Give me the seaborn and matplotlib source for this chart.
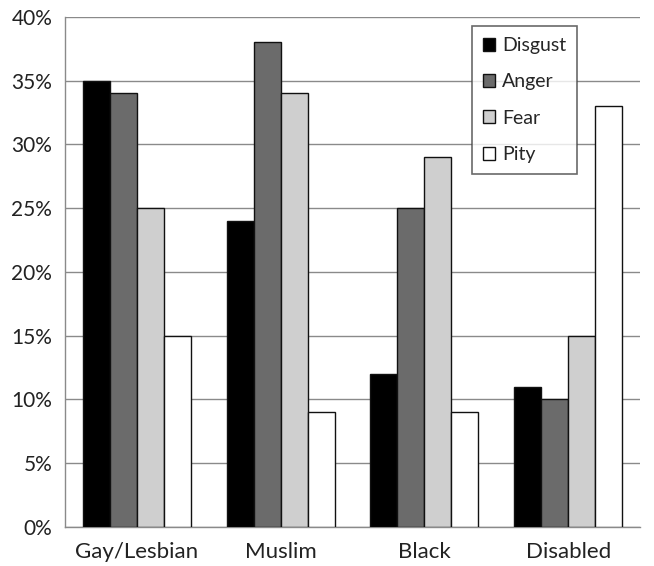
import pandas as pd
import numpy as np
import matplotlib
matplotlib.use('Agg')
import matplotlib.pyplot as plt
import seaborn as sns
from matplotlib.ticker import FixedLocator, PercentFormatter

groups = ['Gay/Lesbian', 'Muslim', 'Black', 'Disabled']
emotions = ['Disgust', 'Anger', 'Fear', 'Pity']
disgust = [35, 24, 12, 11]
anger = [34, 38, 25, 10]
fear = [25, 34, 29, 15]
pity = [15, 9, 9, 33]
palette = ['#000000', '#6b6b6b', '#cfcfcf', '#ffffff']

rows = []
for name, vals in zip(emotions, [disgust, anger, fear, pity]):
    for g, v in zip(groups, vals):
        rows.append({'group': g, 'emotion': name, 'value': v})
df = pd.DataFrame(rows)

sns.set_style('white')
plt.rcParams['font.family'] = ['Lato', 'DejaVu Sans']

fig = plt.figure(figsize=(6.54, 5.66), dpi=100)
ax = fig.add_axes([0.099, 0.069, 0.880, 0.901])

sns.barplot(data=df, x='group', y='value', hue='emotion', order=groups,
            hue_order=emotions, palette=palette, edgecolor='#111111',
            linewidth=1.0, width=0.75, saturation=1, ax=ax, zorder=3)

ax.set_ylim(0, 40)
ax.set_xlim(-0.5, 3.5)
ax.set_yticks(range(0, 41, 5))
ax.yaxis.set_major_formatter(PercentFormatter(decimals=0))
ax.grid(axis='y', color='#8a8a8a', linewidth=1.0, zorder=0)
ax.set_axisbelow(True)
ax.set_xlabel('')
ax.set_ylabel('')

# tick marks between categories
ax.xaxis.set_minor_locator(FixedLocator([-0.5, 0.5, 1.5, 2.5, 3.5]))
ax.tick_params(axis='x', which='major', length=0, labelsize=16, pad=11, colors='#222222')
ax.tick_params(axis='x', which='minor', length=6, width=1, color='#8a8a8a', direction='out')
ax.tick_params(axis='y', length=8, width=1, labelsize=15, pad=1,
               labelcolor='#222222', direction='out')
ax.tick_params(axis='y', color='#8a8a8a')

for s in ['top', 'right']:
    ax.spines[s].set_visible(False)
for s in ['left', 'bottom']:
    ax.spines[s].set_color('#8a8a8a')
    ax.spines[s].set_linewidth(1.0)

leg = ax.legend(loc='upper right', bbox_to_anchor=(0.89, 0.982), fontsize=14,
                frameon=True, fancybox=False, edgecolor='#444444',
                handlelength=0.65, handleheight=0.65, handletextpad=0.35,
                labelspacing=1.0, borderpad=0.55, borderaxespad=0)
leg.get_frame().set_linewidth(1.2)
leg.set_zorder(5)

plt.savefig('out.png', dpi=100, facecolor='white')
